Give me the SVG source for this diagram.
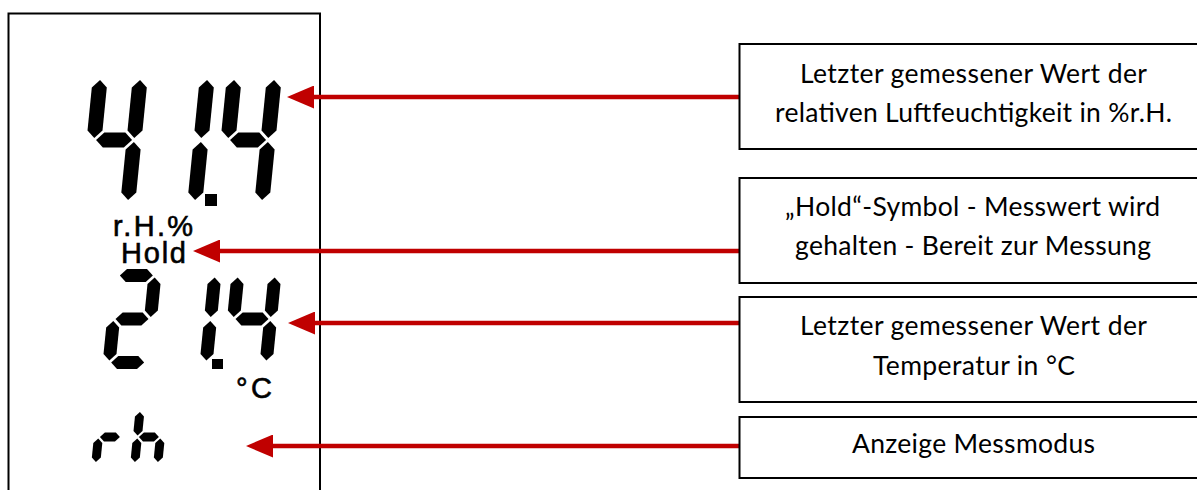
<svg xmlns="http://www.w3.org/2000/svg" xmlns:xlink="http://www.w3.org/1999/xlink" width="1197" height="490" viewBox="0 0 1197 490">
  <style>
    .frame { fill: none; stroke: #000; stroke-width: 2; }
    .box { fill: #fff; stroke: #000; stroke-width: 2; }
    .seg { fill: #000; }
    .lcdtxt { font-family: "Liberation Sans", Arial, sans-serif; font-size: 29px; fill: #000; stroke: #000; stroke-width: 0.6; }
    .label { font-family: Lato, "Noto Sans", sans-serif; font-size: 26.5px; fill: #000; text-anchor: middle; }
    .conn { stroke: #C00000; stroke-width: 4.5; fill: none; }
  </style>
  <defs>
    <marker id="head" markerUnits="userSpaceOnUse" markerWidth="27" markerHeight="23" viewBox="0 0 27 23" refX="1" refY="11.5" orient="auto">
      <path d="M0,0 L27,11.5 L0,23 Z" fill="#C00000"/>
    </marker>
    <!-- size A segments (row 1) -->
    <polygon id="A-f" points="7.5,9.5 15,17 15,60 7.5,67.5 0,60 0,17"/>
    <polygon id="A-b" points="47.5,9.5 55,17 55,60 47.5,67.5 40,60 40,17"/>
    <polygon id="A-g" points="9.5,69.5 17,62 38,62 45.5,69.5 38,77 17,77"/>
    <polygon id="A-c" points="47.5,71.5 55,79 55,122 47.5,129.5 40,122 40,79"/>
    <!-- size B segments (row 2) -->
    <polygon id="B-a" points="8.5,6.5 15,0 35,0 41.5,6.5 35,13 15,13"/>
    <polygon id="B-g" points="8.5,50 15,43.5 35,43.5 41.5,50 35,56.5 15,56.5"/>
    <polygon id="B-d" points="8.5,93.5 15,87 35,87 41.5,93.5 35,100 15,100"/>
    <polygon id="B-f" points="6.5,8.5 13,15 13,41.5 6.5,48 0,41.5 0,15"/>
    <polygon id="B-b" points="43.5,8.5 50,15 50,41.5 43.5,48 37,41.5 37,15"/>
    <polygon id="B-e" points="6.5,52 13,58.5 13,85 6.5,91.5 0,85 0,58.5"/>
    <polygon id="B-c" points="43.5,52 50,58.5 50,85 43.5,91.5 37,85 37,58.5"/>
    <!-- size C segments (row 3) -->
    <polygon id="C-g" points="6,31 10.5,26.5 21.5,26.5 26,31 21.5,35.5 10.5,35.5"/>
    <polygon id="C-f" points="4.5,6 9,10.5 9,25 4.5,29.5 0,25 0,10.5"/>
    <polygon id="C-e" points="4.5,32.5 9,37 9,51.5 4.5,56 0,51.5 0,37"/>
    <polygon id="C-c" points="27.5,32.5 32,37 32,51.5 27.5,56 23,51.5 23,37"/>
  </defs>

  <rect width="1197" height="490" fill="#fff"/>

  <g id="lcd-display">
    <rect class="frame" x="8.5" y="13.5" width="311.5" height="500"/>
    <g id="humidity-value" class="seg">
      <g transform="translate(93.5,70.5) skewX(-5.7)">
        <use href="#A-f"/><use href="#A-b"/><use href="#A-g"/><use href="#A-c"/>
      </g>
      <g transform="translate(160.5,70.5) skewX(-5.7)">
        <use href="#A-b"/><use href="#A-c"/>
      </g>
      <rect x="205" y="194" width="12" height="12"/>
      <g transform="translate(227.5,70.5) skewX(-5.7)">
        <use href="#A-f"/><use href="#A-b"/><use href="#A-g"/><use href="#A-c"/>
      </g>
    </g>
    <text id="rh-unit" class="lcdtxt" x="113" y="236" textLength="80" lengthAdjust="spacing">r.H.%</text>
    <text id="hold-symbol" class="lcdtxt" x="121" y="263" textLength="65" lengthAdjust="spacing">Hold</text>
    <g id="temperature-value" class="seg">
      <g transform="translate(112,269) skewX(-5.7)">
        <use href="#B-a"/><use href="#B-b"/><use href="#B-g"/><use href="#B-e"/><use href="#B-d"/>
      </g>
      <g transform="translate(172,269) skewX(-5.7)">
        <use href="#B-b"/><use href="#B-c"/>
      </g>
      <rect x="212" y="359" width="11" height="10"/>
      <g transform="translate(232,269) skewX(-5.7)">
        <use href="#B-f"/><use href="#B-b"/><use href="#B-g"/><use href="#B-c"/>
      </g>
    </g>
    <text id="celsius-unit" class="lcdtxt" x="236" y="398" textLength="36" lengthAdjust="spacing">°C</text>
    <g id="mode-indicator" class="seg">
      <g transform="translate(97,406) skewX(-5.7)">
        <use href="#C-e"/><use href="#C-g"/>
      </g>
      <g transform="translate(136,406) skewX(-5.7)">
        <use href="#C-f"/><use href="#C-e"/><use href="#C-g"/><use href="#C-c"/>
      </g>
    </g>
  </g>

  <g id="connectors">
    <line class="conn" x1="739" y1="97" x2="313" y2="97" marker-end="url(#head)"/>
    <line class="conn" x1="739" y1="251" x2="219" y2="251" marker-end="url(#head)"/>
    <line class="conn" x1="739" y1="323" x2="314" y2="323" marker-end="url(#head)"/>
    <line class="conn" x1="739" y1="446" x2="272" y2="446" marker-end="url(#head)"/>
  </g>

  <g id="box-humidity">
    <rect class="box" x="739.5" y="44" width="470" height="105"/>
    <text class="label" x="973.5" y="83" textLength="347" lengthAdjust="spacing">Letzter gemessener Wert der</text>
    <text class="label" x="973.5" y="122" textLength="397" lengthAdjust="spacing">relativen Luftfeuchtigkeit in %r.H.</text>
  </g>
  <g id="box-hold">
    <rect class="box" x="739.5" y="178" width="470" height="105"/>
    <text class="label" x="972.5" y="216" textLength="375" lengthAdjust="spacing">„Hold“-Symbol - Messwert wird</text>
    <text class="label" x="973" y="255" textLength="356" lengthAdjust="spacing">gehalten - Bereit zur Messung</text>
  </g>
  <g id="box-temperature">
    <rect class="box" x="739.5" y="297" width="470" height="105"/>
    <text class="label" x="973.5" y="335" textLength="347" lengthAdjust="spacing">Letzter gemessener Wert der</text>
    <text class="label" x="974" y="375" textLength="202" lengthAdjust="spacing">Temperatur in °C</text>
  </g>
  <g id="box-mode">
    <rect class="box" x="739.5" y="417" width="470" height="61"/>
    <text class="label" x="973.5" y="453" textLength="243" lengthAdjust="spacing">Anzeige Messmodus</text>
  </g>
</svg>
